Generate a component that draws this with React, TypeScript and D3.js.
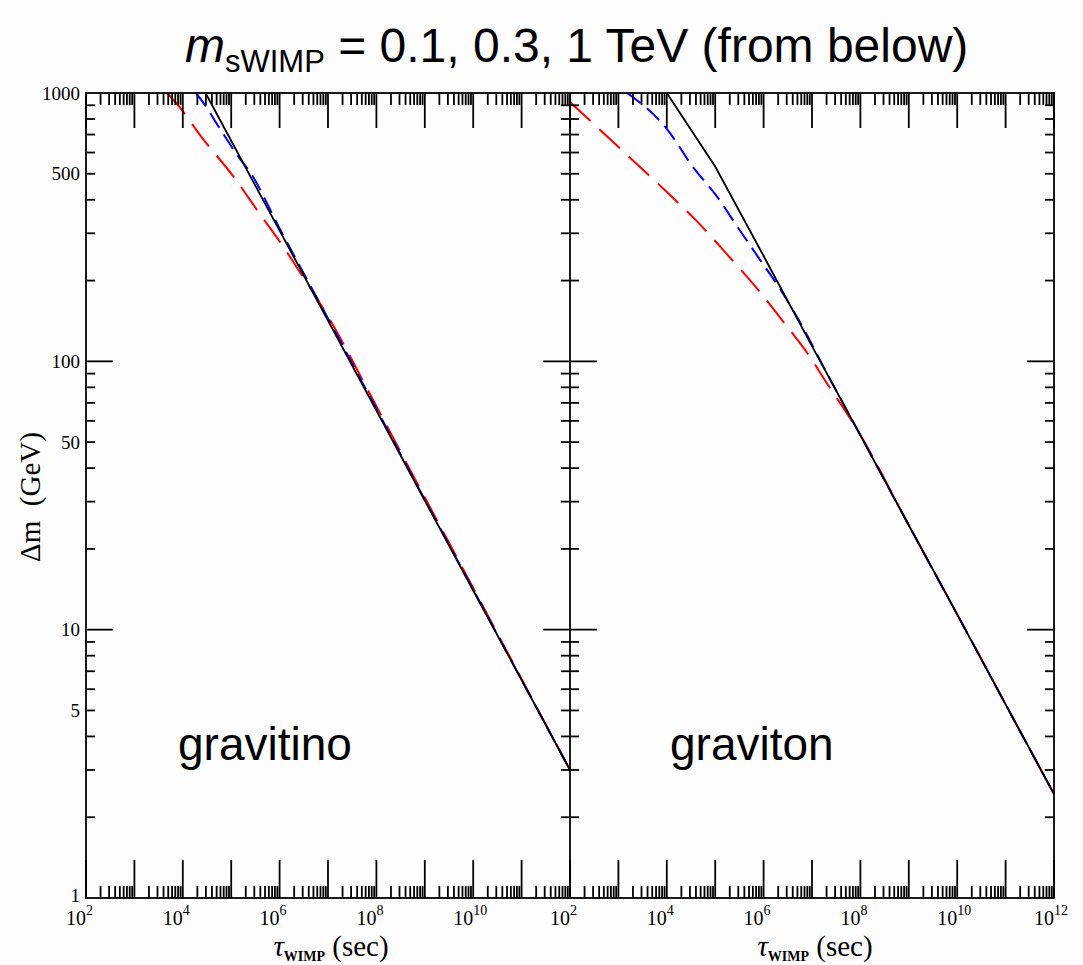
import React from 'react';
import * as d3 from 'd3';

// ---------- data (tau given as log10 of seconds, Δm in GeV) ----------
const gravitinoTauExp1TeV = [4.47, 5, 6, 7, 8, 9, 10, 11, 12];
const gravitinoDm1TeV = [1000, 664, 307, 142, 65.6, 30.3, 14.0, 6.49, 3.0];

const gravitinoTauExp03TeV = [4.27, 4.4, 4.77, 5.14, 5.39, 6, 7, 8, 9, 10, 11, 12];
const gravitinoDm03TeV = [1000, 933, 735, 582, 507, 313, 144.5, 66.5, 30.5, 14.1, 6.5, 3.0];

const gravitinoTauExp01TeV = [3.67, 3.88, 4.42, 5.04, 5.55, 6.11, 6.42, 7, 8, 9, 10, 11, 12];
const gravitinoDm01TeV = [1000, 910, 673, 490, 363, 262, 215, 147, 68, 31.1, 14.3, 6.55, 3.0];

const gravitonTauExp1TeV = [4.0, 5.0, 6, 7, 8, 9, 10, 11, 12];
const gravitonDm1TeV = [1000, 532, 247, 114, 53.0, 24.5, 11.4, 5.27, 2.44];

const gravitonTauExp03TeV = [3.18, 4.0, 4.54, 5.03, 5.45, 5.92, 6.34, 6.75, 7.31, 8, 9, 10, 11, 12];
const gravitonDm03TeV = [1000, 735, 530, 413, 319, 240, 186, 140, 90.2, 53.0, 24.5, 11.4, 5.27, 2.44];

const gravitonTauExp01TeV = [2.0, 3.09, 3.98, 4.62, 5.24, 5.82, 6.4, 7.02, 7.23, 7.95, 9, 10, 11, 12];
const gravitonDm01TeV = [925, 608, 431, 333, 251, 191, 141, 100, 87.1, 55.1, 24.5, 11.4, 5.27, 2.44];

const yTickLabels = [1000, 500, 100, 50, 10, 5, 1];
const leftXLabelExps = [2, 4, 6, 8, 10];
const rightXLabelExps = [2, 4, 6, 8, 10, 12];

const panelNames = ['gravitino', 'graviton'];

// ---------- layout ----------
const W = 1083;
const H = 965;
const TOP = 93;
const BOTTOM = 898;
const X0 = 86;
const XM = 570;
const X1 = 1054;

const yScale = d3.scaleLog().domain([1, 1000]).range([BOTTOM, TOP]);
const xLeft = d3.scaleLog().domain([1e2, 1e12]).range([X0, XM]);
const xRight = d3.scaleLog().domain([1e2, 1e12]).range([XM, X1]);

const serif = '"Liberation Serif", "DejaVu Serif", serif';
const sans = '"Liberation Sans", Arial, sans-serif';

function pts(exps: number[], dms: number[]): [number, number][] {
  return exps.map((e, i) => [Math.pow(10, e), dms[i]]);
}

function xTicks(scale: d3.ScaleLogarithmic<number, number>, key: string) {
  const out: React.ReactNode[] = [];
  for (let k = 2; k <= 12; k++) {
    const x = scale(Math.pow(10, k));
    out.push(<line key={`${key}tM${k}`} x1={x} x2={x} y1={TOP} y2={TOP + 35} />);
    out.push(<line key={`${key}bM${k}`} x1={x} x2={x} y1={BOTTOM} y2={BOTTOM - 38} />);
    if (k < 12) {
      for (let m = 2; m <= 9; m++) {
        const xm = scale(m * Math.pow(10, k));
        out.push(<line key={`${key}t${k}_${m}`} x1={xm} x2={xm} y1={TOP} y2={TOP + 12} />);
        out.push(<line key={`${key}b${k}_${m}`} x1={xm} x2={xm} y1={BOTTOM} y2={BOTTOM - 12} />);
      }
    }
  }
  return out;
}

function yTicks(x: number, left: number, right: number, key: string) {
  const out: React.ReactNode[] = [];
  for (let k = 0; k <= 2; k++) {
    const major = Math.pow(10, k);
    const y = yScale(major);
    if (k > 0) {
      out.push(<line key={`${key}M${k}`} x1={x - left * 27} x2={x + right * 27} y1={y} y2={y} />);
    }
    for (let m = 2; m <= 9; m++) {
      const ym = yScale(m * major);
      out.push(<line key={`${key}${k}_${m}`} x1={x - left * 9} x2={x + right * 9} y1={ym} y2={ym} />);
    }
  }
  return out;
}

function path(scale: d3.ScaleLogarithmic<number, number>, data: [number, number][], smooth: boolean) {
  const gen = d3
    .line<[number, number]>()
    .x((d) => scale(d[0]))
    .y((d) => yScale(d[1]))
    .curve(smooth ? d3.curveMonotoneX : d3.curveLinear);
  return gen(data) || '';
}

export default function App() {
  const panels = [
    {
      scale: xLeft,
      red: pts(gravitinoTauExp01TeV, gravitinoDm01TeV),
      blue: pts(gravitinoTauExp03TeV, gravitinoDm03TeV),
      black: pts(gravitinoTauExp1TeV, gravitinoDm1TeV),
    },
    {
      scale: xRight,
      red: pts(gravitonTauExp01TeV, gravitonDm01TeV),
      blue: pts(gravitonTauExp03TeV, gravitonDm03TeV),
      black: pts(gravitonTauExp1TeV, gravitonDm1TeV),
    },
  ];

  return (
    <svg
      width={W}
      height={H}
      viewBox={`0 0 ${W} ${H}`}
      style={{ position: 'absolute', left: 0, top: 0, background: '#fdfdfd' }}
    >
      <rect x={0} y={0} width={W} height={H} fill="#fdfdfd" />
      <defs>
        <clipPath id="clipL">
          <rect x={X0} y={TOP} width={XM - X0} height={BOTTOM - TOP} />
        </clipPath>
        <clipPath id="clipR">
          <rect x={XM} y={TOP} width={X1 - XM} height={BOTTOM - TOP} />
        </clipPath>
      </defs>

      {/* Title */}
      <text x={185} y={62} fontFamily={sans} fontSize={48} fill="#000">
        <tspan fontStyle="italic">m</tspan>
        <tspan fontSize={31} dy={10}>sWIMP</tspan>
        <tspan dy={-10}> = 0.1, 0.3, 1 TeV (from below)</tspan>
      </text>

      {/* curves */}
      {panels.map((p, i) => (
        <g key={`curves${i}`} clipPath={`url(#${i === 0 ? 'clipL' : 'clipR'})`} fill="none">
          <path d={path(p.scale, p.red, true)} stroke="#ff0000" strokeWidth={2} strokeDasharray="28,12" />
          <path d={path(p.scale, p.blue, true)} stroke="#0000ff" strokeWidth={2} strokeDasharray="17,8" />
          <path d={path(p.scale, p.black, false)} stroke="#000" strokeWidth={1.8} />
        </g>
      ))}

      {/* frame and ticks */}
      <g stroke="#000" strokeWidth={1.8} fill="none">
        <rect x={X0} y={TOP} width={X1 - X0} height={BOTTOM - TOP} />
        <line x1={XM} x2={XM} y1={TOP} y2={BOTTOM} />
        {xTicks(xLeft, 'L')}
        {xTicks(xRight, 'R')}
        {yTicks(X0, 0, 1, 'yl')}
        {yTicks(XM, 1, 1, 'ym')}
        {yTicks(X1, 1, 0, 'yr')}
      </g>

      {/* y tick labels */}
      {yTickLabels.map((v) => (
        <text
          key={`yl${v}`}
          x={X0 - 6}
          y={yScale(v) + (v === 1 ? -3 : 0)}
          dy="0.35em"
          textAnchor="end"
          fontFamily={serif}
          fontSize={19}
          fill="#000"
        >
          {v}
        </text>
      ))}

      {/* x tick labels */}
      {leftXLabelExps.map((e) => {
        const x = xLeft(Math.pow(10, e));
        return (
          <g key={`xl${e}`} fontFamily={serif} fill="#000">
            <text x={x} y={925} textAnchor="end" fontSize={20}>10</text>
            <text x={x} y={915} textAnchor="start" fontSize={14}>{e}</text>
          </g>
        );
      })}
      {rightXLabelExps.map((e) => {
        const x = xRight(Math.pow(10, e));
        return (
          <g key={`xr${e}`} fontFamily={serif} fill="#000">
            <text x={x} y={925} textAnchor="end" fontSize={20}>10</text>
            <text x={x} y={915} textAnchor="start" fontSize={14}>{e}</text>
          </g>
        );
      })}

      {/* x axis titles */}
      {[(X0 + XM) / 2 + 3, (XM + X1) / 2 + 3].map((cx, i) => (
        <text key={`xt${i}`} x={cx} y={956} textAnchor="middle" fontFamily={serif} fontSize={29} fill="#000">
          <tspan fontStyle="italic">τ</tspan>
          <tspan fontSize={14} fontWeight="bold" dy={5}>WIMP</tspan>
          <tspan dy={-5}>{'\u00a0(sec)'}</tspan>
        </text>
      ))}

      {/* y axis title */}
      <text
        transform={`translate(40, 497) rotate(-90)`}
        textAnchor="middle"
        fontFamily={serif}
        fontSize={29}
        fill="#000"
      >
        {'Δm\u00a0\u00a0(GeV)'}
      </text>

      {/* panel names */}
      <text x={178} y={760} fontFamily={sans} fontSize={46} fill="#000">{panelNames[0]}</text>
      <text x={670} y={760} fontFamily={sans} fontSize={46} fill="#000">{panelNames[1]}</text>
    </svg>
  );
}
